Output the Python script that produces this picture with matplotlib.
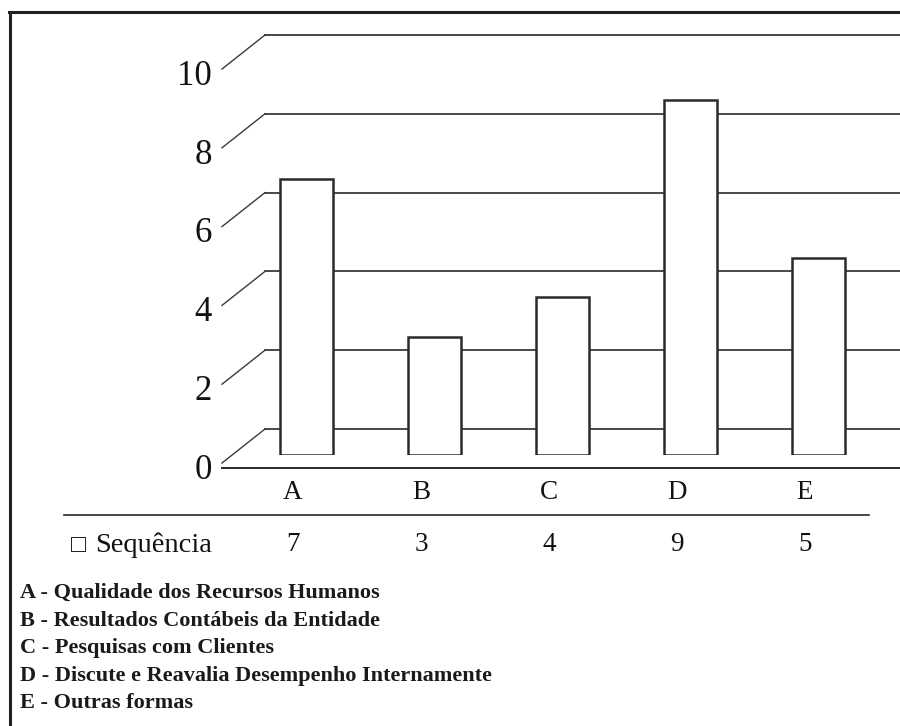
import matplotlib.pyplot as plt
from matplotlib.lines import Line2D

categories = ['A', 'B', 'C', 'D', 'E']
values = [7, 3, 4, 9, 5]
series_name = 'Sequência'
yticks = [0, 2, 4, 6, 8, 10]
descriptions = [
    'A - Qualidade dos Recursos Humanos',
    'B - Resultados Contábeis da Entidade',
    'C - Pesquisas com Clientes',
    'D - Discute e Reavalia Desempenho Internamente',
    'E - Outras formas',
]

W, H = 900, 726
PX, PY = 128.0, 39.4          # pixels per category / per unit
ORIGIN_X, ORIGIN_Y = 306, 455  # centre of first bar, base of bars (px from top)

# depth offsets for the fake 3d look (data units)
BACK_DX, BACK_DY = 29 / PX, 26 / PY
FRONT_DX, FRONT_DY = -14 / PX, -8 / PY

plt.rcParams['font.family'] = ['Liberation Serif', 'DejaVu Serif']
INK = '#2a2a2a'

fig = plt.figure(figsize=(W / 100, H / 100), dpi=100)
left_px = 236
bottom_px = H - ORIGIN_Y
ax = fig.add_axes([left_px / W, bottom_px / H, (W - left_px) / W, 11 * PY / H])
x0 = (left_px - ORIGIN_X) / PX
x1 = (W - ORIGIN_X) / PX
ax.set_xlim(x0, x1)
ax.set_ylim(0, 11)
ax.axis('off')

# back wall gridlines and the side-wall diagonals
for k in yticks:
    ax.plot([x0 + BACK_DX, x1 + 1], [k + BACK_DY, k + BACK_DY], color='#3a3a3a',
            lw=1.3, clip_on=False, zorder=1)
    ax.plot([x0 + FRONT_DX, x0 + BACK_DX], [k + FRONT_DY, k + BACK_DY],
            color='#3a3a3a', lw=1.0, clip_on=False, zorder=1)
    ax.text(x0 + FRONT_DX - 0.08, k + FRONT_DY - 0.4, str(k), ha='right',
            va='baseline', fontsize=25, color='#111', clip_on=False)

# front edge of the floor
ax.plot([(222 - ORIGIN_X) / PX, x1 + 1], [-13 / PY, -13 / PY], color=INK,
        lw=1.4, clip_on=False, zorder=1)

pos = list(range(len(categories)))
ax.bar(pos, values, width=53 / PX, color='white', edgecolor=INK, linewidth=1.8,
       zorder=3)

# category labels and data table
for i, (c, v) in enumerate(zip(categories, values)):
    ax.text(i - 13 / PX, (ORIGIN_Y - 499) / PY, c, ha='center', va='baseline',
            fontsize=19.5, color='#111', clip_on=False)
    ax.text(i - 13 / PX, (ORIGIN_Y - 551) / PY, str(v), ha='center',
            va='baseline', fontsize=19.5, color='#111', clip_on=False)

ax.plot([(64 - ORIGIN_X) / PX, (869 - ORIGIN_X) / PX],
        [(ORIGIN_Y - 515) / PY] * 2, color=INK, lw=1.2, clip_on=False)
ax.text((71 - ORIGIN_X) / PX, (ORIGIN_Y - 552) / PY, '\u25a1',
        ha='left', va='baseline', fontsize=18, color='#111', clip_on=False)
ax.text((95 - ORIGIN_X) / PX, (ORIGIN_Y - 552) / PY, series_name,
        ha='left', va='baseline', fontsize=20.5, color='#111', clip_on=False)

# category descriptions
for j, d in enumerate(descriptions):
    base = 598 + 27.5 * j
    fig.text(20 / W, 1 - base / H, d, ha='left', va='baseline', fontsize=16,
             fontweight='bold', color='#1a1a1a')

# outer frame
fig.add_artist(Line2D([10 / W, 10 / W], [0, 1 - 12 / H], transform=fig.transFigure,
                      color='#222', lw=2.2))
fig.add_artist(Line2D([9 / W, 1], [1 - 12 / H, 1 - 12 / H], transform=fig.transFigure,
                      color='#222', lw=2.2))

fig.savefig('out.png', dpi=100, facecolor='white')
